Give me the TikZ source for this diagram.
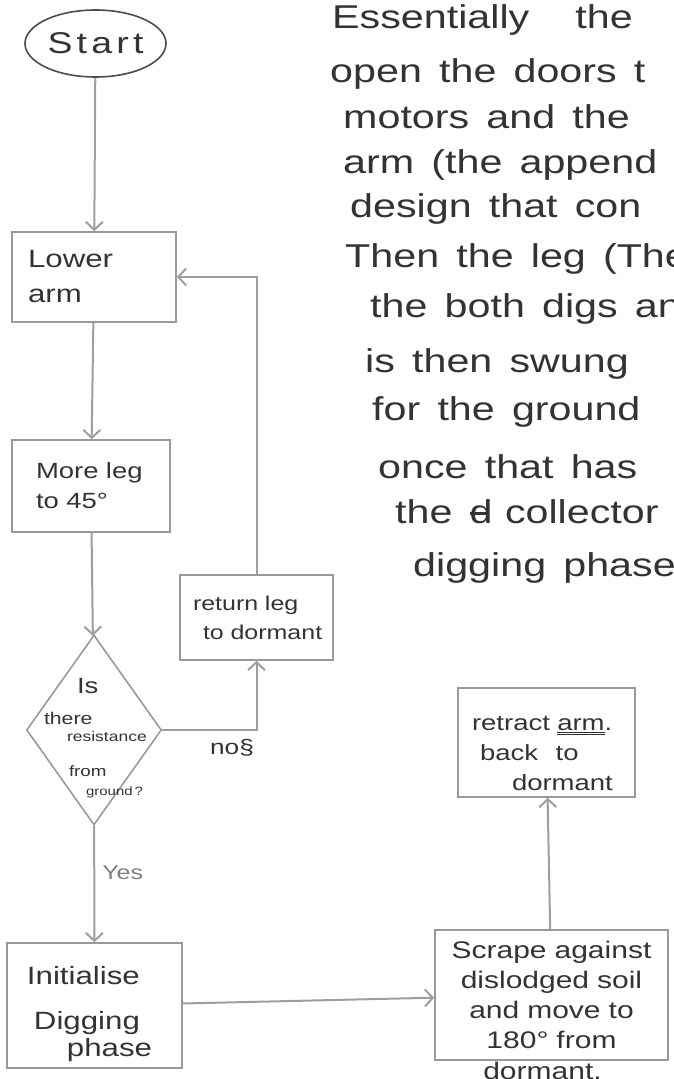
\documentclass[tikz,border=0pt]{standalone}
\usepackage{fontspec}
\setmainfont{Liberation Sans}[FakeStretch=1.25]
\usetikzlibrary{shapes.geometric,arrows.meta}

\newcommand{\hand}[2]{\fontsize{#1}{#2}\selectfont}
\newcommand{\notefont}{\hand{33}{40}\spaceskip=0.52em plus 0.1em\relax}
\newcommand{\blot}{\rlap{d}\rule[0.25em]{0.55em}{2.5pt}}
\newcommand{\askground}{%
  \parindent=0pt
  \hand{22}{22}\hspace*{33pt}Is\par
  \hand{17}{31}there\par
  \hand{14}{17}\hspace*{23pt}resistance\par
  \hand{15}{35}\hspace*{25pt}from\par
  \hand{12}{19}\hspace*{42pt}ground\,?\par}

\tikzset{
  pencil/.style={draw=black!40, line width=1.6pt},
  stepbox/.style={pencil, rectangle, inner ysep=0pt, align=left, text=black!80},
  terminal/.style={ellipse, draw=black!70, line width=1.6pt, minimum width=141pt,
    minimum height=67pt, inner sep=0pt, text=black!80},
  decision/.style={pencil, diamond, minimum width=135pt, minimum height=190pt, inner sep=0pt},
  flow/.style={draw=black!38, line width=2pt, -{Straight Barb[length=8pt,width=17pt]}},
  para/.style={anchor=base west, inner sep=0pt, text=black!80, font=\notefont}
}

\begin{document}
\begin{tikzpicture}[x=1pt, y=-1pt]
\clip (0,0) rectangle (674,1079);

% flow chart
\node[terminal, font=\hand{30}{32}\addfontfeature{LetterSpace=14}] (start) at (95.5,43.5) {Start};

\node[stepbox, minimum width=164pt, minimum height=90pt, text width=132pt, inner xsep=16pt,
  font=\hand{25}{35}] (lower) at (94,277) {Lower\\arm};

\node[stepbox, minimum width=158pt, minimum height=92pt, text width=110pt, inner xsep=24pt,
  font=\hand{22}{30}] (moreleg) at (91,486) {More leg\\to 45°};

\node[decision, label={[text=black!80, align=left, text width=106pt, inner sep=0pt,
  xshift=3pt, yshift=-8pt]center:\askground}] (dia) at (94,730) {};

\node[stepbox, minimum width=153pt, minimum height=85pt, text width=141pt, inner xsep=6pt,
  font=\hand{20}{29}] (ret) at (256.5,617.5) {\hspace*{7pt}return leg\\\hspace*{17pt}to dormant};

\node[stepbox, minimum width=175pt, minimum height=125pt, text width=135pt, inner xsep=20pt,
  font=\hand{25}{35}] (init) at (94.5,1005.5)
  {\rule{0pt}{36pt}Initialise\\[10pt]\hspace*{7pt}Digging\\[-8pt]\hspace*{40pt}phase};

\node[stepbox, align=center, minimum width=233pt, minimum height=130pt, text width=213pt, inner xsep=10pt,
  font=\hand{24}{30}, label={[font=\hand{24}{30}, text=black!80, inner sep=0pt, xshift=-9pt, yshift=-1pt]below:dormant.}]
  (scrape) at (551.5,995) {Scrape against\\dislodged soil\\and move to\\180° from};

\node[stepbox, minimum width=177pt, minimum height=109pt, text width=149pt, inner xsep=14pt,
  font=\hand{22}{30}] (retract) at (546.5,742.5)
  {\rule{0pt}{36pt}retract \underline{\underline{arm}}.\\\hspace*{8pt}back\hspace{0.8em}to\\\hspace*{40pt}dormant};

\draw[flow] (start) -- (lower);
\draw[flow] (lower) -- (moreleg);
\draw[flow] (moreleg) -- (dia);
\draw[flow] (dia) -- node[pos=0.4, right=7pt, inner sep=0pt, text=black!50, font=\hand{20}{22}] (yes) {Yes} (init);
\draw[flow] (dia.east) -| node[pos=0.37, below=8pt, inner sep=0pt, text=black!80, font=\hand{21}{22}] (no) {no§} (ret.south);
\draw[flow] (ret.north) |- (lower.east);
\draw[flow] (init) -- (scrape);
\draw[flow] (scrape) -- (retract);

% notes on the right
\foreach \x/\y/\txt [count=\i] in {
  332/28/{Essentially\hspace{1.4em}the},
  330/82/{open the doors t},
  343/128/{motors and the},
  343/173/{arm (the append},
  350/217/{design that con},
  345/267/{Then the leg (The},
  370/317/{the both digs an},
  365/372/{is then swung},
  372/420/{for the ground},
  378/478/{once that has},
  395/523/{the \blot\ collector},
  413/576/{digging phase}}
  \node[para] (note\i) at (\x,\y) {\txt};
\end{tikzpicture}
\end{document}
